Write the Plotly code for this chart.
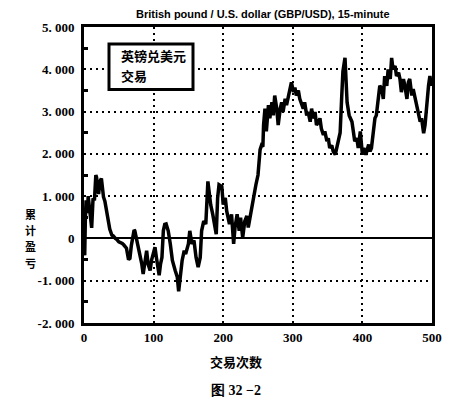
import plotly.graph_objects as go

trades = [0, 1, 2, 3, 5, 6, 8, 11, 13, 15, 17, 18, 21, 23, 25, 28, 30, 33, 35, 37,
          40, 42, 45, 47, 50, 52, 55, 57, 59, 61, 64, 66, 68, 70, 72, 73, 76, 79, 83, 85,
          88, 90, 92, 95, 97, 100, 102, 104, 106, 108, 110, 112, 114, 116, 118, 121, 124, 127, 131, 134,
          136, 137, 139, 141, 144, 146, 150, 152, 155, 158, 161, 164, 167, 169, 172, 175, 178, 180, 182, 185,
          187, 190, 192, 194, 198, 200, 203, 205, 209, 212, 215, 217, 220, 223, 225, 228, 231, 234, 236, 240,
          242, 244, 247, 250, 253, 255, 257, 258, 260, 262, 265, 267, 270, 272, 274, 277, 279, 282, 284, 286,
          289, 291, 294, 296, 298, 301, 303, 305, 308, 310, 313, 315, 317, 320, 322, 325, 327, 329, 332, 334,
          337, 339, 341, 344, 346, 349, 351, 353, 356, 358, 361, 363, 366, 368, 370, 372, 375, 376, 378, 381,
          385, 387, 389, 392, 394, 397, 398, 400, 402, 405, 409, 411, 413, 416, 418, 420, 423, 425, 428, 430,
          432, 435, 437, 440, 442, 444, 447, 449, 452, 454, 456, 459, 461, 464, 466, 468, 471, 473, 476, 478,
          480, 483, 485, 488, 490, 492, 495, 497, 499, 500]

pnl = [0, -400, 500, 900, 600, 1000, 700, 250, 950, 900, 1500, 1450, 1050, 1350, 1420, 980, 880, 600, 300, 220,
       80, 60, 0, -20, -80, -90, -120, -150, -190, -230, -500, -470, -170, 50, 200, 180, -50, -370, -600, -840,
       -450, -290, -600, -760, -520, -290, -210, -450, -700, -870, -600, -450, 180, 330, 340, 180, -130, -520, -760, -910,
       -1250, -1100, -910, -520, -290, -370, -130, 180, -130, -50, -450, -680, -450, 180, 410, 340, 1350, 1000, 800, 570,
       410, 100, 960, 1270, 1230, 800, 960, 650, 340, 570, -130, 260, 570, 180, 490, 20, 410, 530, 260, 650,
       730, 960, 1270, 1500, 2100, 2200, 2170, 2680, 3070, 2530, 3150, 2840, 3220, 2910, 3380, 3070, 2680, 3070, 3220, 2990,
       3300, 3150, 3380, 3610, 3690, 3460, 3570, 3380, 3500, 3300, 3150, 3070, 3220, 2910, 2990, 2760, 3070, 2840, 2990, 2680,
       2760, 2840, 2600, 2450, 2530, 2300, 2370, 2140, 2200, 2060, 1980, 2140, 2370, 2500, 3250, 3950, 4270, 3840, 3220, 2910,
       2760, 2530, 2300, 2370, 2140, 2530, 2370, 1980, 2140, 1980, 2220, 2060, 2140, 2530, 2840, 2910, 3300, 3610, 3530, 3300,
       3840, 3610, 4000, 3770, 4270, 4000, 4080, 3840, 3920, 3770, 3460, 3770, 3610, 3300, 3690, 3770, 3380, 3530, 3300, 3150,
       2910, 2760, 2840, 2490, 2680, 3150, 3610, 3840, 3610, 3770]

x_ticks = [0, 100, 200, 300, 400, 500]
x_labels = ["0", "100", "200", "300", "400", "500"]
y_ticks = [-2000, -1000, 0, 1000, 2000, 3000, 4000, 5000]
y_labels = ["-2. 000", "-1. 000", "0", "1. 000", "2. 000", "3. 000", "4. 000", "5. 000"]
y_title_chars = ["累", "计", "盈", "亏"]
legend_lines = ["英镑兑美元", "交易"]

serif = dict(family="Liberation Serif", size=13, color="black", weight="bold")
cjk = "Noto Sans CJK SC"

# page has an 8px body margin; figure is sized to fit inside the window
OFF = 8
L, T, PW, PH = 84 - OFF, 25 - OFF, 348, 298
W, H = 469 - OFF, 402 - OFF


def px(xp):
    return (xp - 84) / PW


def py(yp):
    return (323 - yp) / PH


fig = go.Figure()
fig.add_trace(go.Scatter(x=trades, y=pnl, mode="lines",
                         line=dict(color="black", width=3.5), showlegend=False))

fig.update_layout(
    width=W, height=H,
    margin=dict(l=L, r=W - L - PW, t=T, b=H - T - PH, pad=0),
    paper_bgcolor="white", plot_bgcolor="white",
    xaxis=dict(range=[0, 500], tickvals=x_ticks, ticktext=x_labels, tickfont=serif,
               showgrid=True, gridcolor="black", gridwidth=2, griddash="2px,4px",
               zeroline=False, showline=True, linecolor="black", linewidth=3, mirror=True,
               ticks="", fixedrange=True),
    yaxis=dict(range=[-2000, 5000], tickvals=y_ticks, ticktext=y_labels, tickfont=serif,
               showgrid=True, gridcolor="black", gridwidth=2, griddash="2px,4px",
               zeroline=True, zerolinecolor="black", zerolinewidth=2,
               showline=True, linecolor="black", linewidth=3, mirror=True,
               ticks="", ticklabelstandoff=4,
               minor=dict(tickvals=[-1500, -500, 500, 1500, 2500, 3500, 4500], ticks="inside",
                          ticklen=4, tickwidth=3, tickcolor="black", showgrid=False),
               fixedrange=True),
    font=dict(family=cjk, color="black"),
)

fig.add_annotation(text="British pound / U.S. dollar (GBP/USD), 15-minute",
                   xref="paper", yref="paper", x=px(263), y=py(12),
                   xanchor="center", yanchor="middle",
                   showarrow=False, font=dict(family="Liberation Sans", size=11, color="black", weight="bold"))

# legend box
fig.add_shape(type="rect", xref="paper", yref="paper",
              x0=px(109), x1=px(193), y0=py(88), y1=py(42),
              line=dict(color="black", width=3), fillcolor="white", layer="above")
for i, line in enumerate(legend_lines):
    fig.add_annotation(text=line, xref="paper", yref="paper",
                       x=px(119), y=py(54 + 20 * i), xanchor="left", yanchor="middle",
                       align="left", showarrow=False,
                       font=dict(family=cjk, size=13, color="black", weight="bold"))

for i, ch in enumerate(y_title_chars):
    fig.add_annotation(text=ch, xref="paper", yref="paper",
                       x=px(30), y=py(213 + 16.4 * i), xanchor="center", yanchor="middle",
                       showarrow=False, font=dict(family=cjk, size=11, color="black", weight="bold"))

fig.add_annotation(text="交易次数", xref="paper", yref="paper",
                   x=px(236), y=py(362), xanchor="center", yanchor="middle",
                   showarrow=False, font=dict(family=cjk, size=13, color="black", weight="bold"))
fig.add_annotation(text="图 32 −2", xref="paper", yref="paper",
                   x=px(236), y=py(391), xanchor="center", yanchor="middle",
                   showarrow=False, font=dict(family="Liberation Serif", size=14, color="black", weight="bold"))

fig.write_html("out.html")
